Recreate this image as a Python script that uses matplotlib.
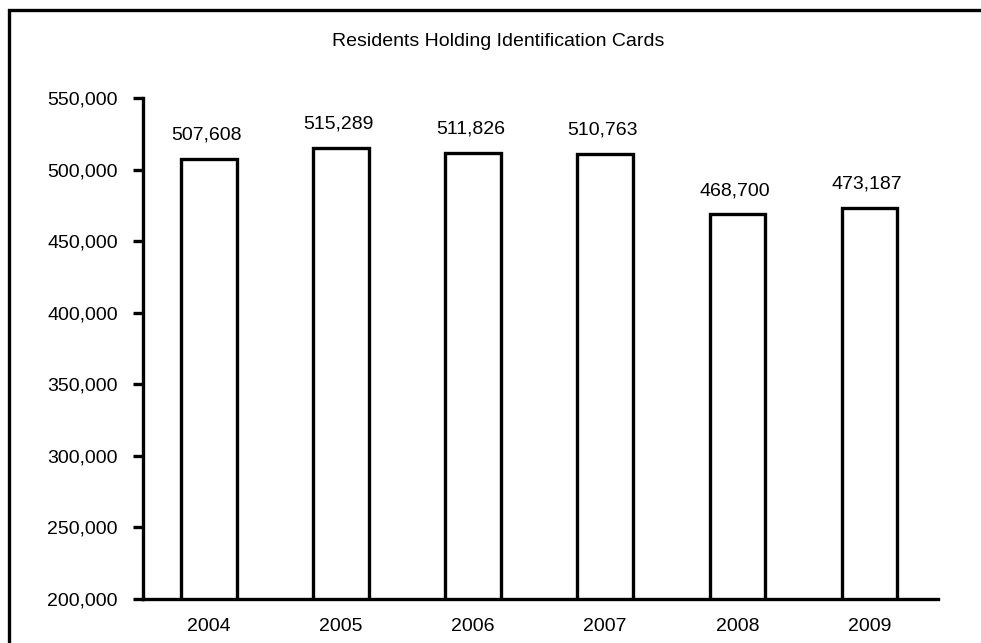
import matplotlib
matplotlib.use("Agg")
import matplotlib.pyplot as plt
from matplotlib.patches import Rectangle
from matplotlib.ticker import FuncFormatter

years = ["2004", "2005", "2006", "2007", "2008", "2009"]
residents = [507608, 515289, 511826, 510763, 468700, 473187]
y_ticks = [200000, 250000, 300000, 350000, 400000, 450000, 500000, 550000]

plt.rcParams["font.family"] = ["Liberation Sans", "DejaVu Sans"]
FS = 14

fig = plt.figure(figsize=(9.81, 6.43), dpi=100)
ax = fig.add_axes([143 / 981, 1 - 599 / 643, (938 - 143) / 981, (599 - 98) / 643])

x = list(range(len(years)))
bars = ax.bar(x, residents, width=0.42, color="white", edgecolor="black",
              linewidth=2.4, zorder=2)

for xi, v in zip(x, residents):
    ax.annotate(f"{v:,}", (xi, v), xytext=(-2, 11), textcoords="offset points",
                ha="center", va="bottom", fontsize=FS)

ax.set_ylim(200000, 550000)
ax.set_xlim(-0.5, 5.52)
ax.set_yticks(y_ticks)
ax.yaxis.set_major_formatter(FuncFormatter(lambda v, p: f"{int(v):,}"))
ax.set_xticks(x)
ax.set_xticklabels(years)

ax.spines["top"].set_visible(False)
ax.spines["right"].set_visible(False)
ax.spines["left"].set_linewidth(2.4)
ax.spines["bottom"].set_linewidth(2.4)
ax.spines["left"].set_zorder(3)
ax.spines["bottom"].set_zorder(3)

ax.tick_params(axis="y", direction="out", length=7, width=2.4, pad=11, labelsize=FS)
ax.tick_params(axis="x", length=0, pad=14, labelsize=FS)

fig.text(0.508, 1 - 42 / 643, "Residents Holding Identification Cards",
         ha="center", va="center", fontsize=FS)

# frame around the chart area
fig.patches.append(Rectangle((9 / 981, -0.2), 1.2, 1.2 - 10 / 643,
                             transform=fig.transFigure, fill=False,
                             edgecolor="black", linewidth=2.4))

fig.savefig("out.png", dpi=100)
